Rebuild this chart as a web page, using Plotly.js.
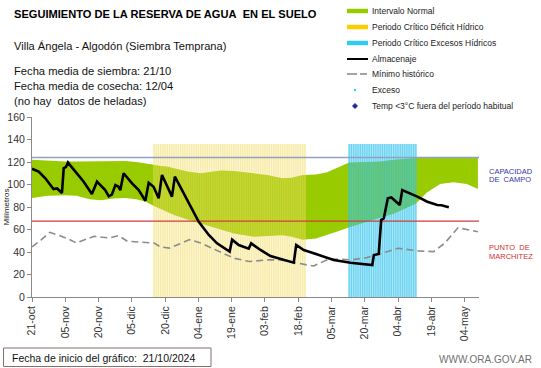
<!DOCTYPE html>
<html><head><meta charset="utf-8">
<script src="https://cdn.plot.ly/plotly-3.0.1.min.js"></script>
<style>html,body{margin:0;padding:0;background:#fff}#chart{width:541px;height:368px}</style>
</head><body><div id="chart"></div>
<script>
// ---- data (days counted from 21/10/2024) ----
const tickDays = [0,15,30,45,60,75,90,105,120,135,150,165,180,195];
const tickLabels = ['21-oct','05-nov','20-nov','05-dic','20-dic','04-ene','19-ene','03-feb','18-feb','05-mar','20-mar','04-abr','19-abr','04-may'];

const normDays  = [0,7,15,20,26,31,37,42,47,51,55,58,61,64,70,76,85,91,100,106,113,117,122,128,133,138,143,150,157,163,168,173,178,184,190,196,201];
const normUpper = [122,121,120.5,120.5,120.5,120.5,121,121,120,119,117.5,116.5,116,114.5,111.5,110,112.5,112,110,108.5,105.5,106,108.5,109,111,115,119.5,120,120.5,122,123,123.5,123.5,123.5,123.5,123.5,123.5];
const normLower = [88,90,90.5,90,87,86,87.5,88,87,85,81,78.5,76,73,69,65.5,60,56.5,53.5,54,55,53.5,51,52,55,58.5,62,66,70.5,74,78.5,83,93,100.5,102,100.5,96];

const minDays = [0,4,8,16,20,28,35,39,43,50,55,58,62,67,71,76,84,91,98,106,112,118,124,127,134,144,151,158,165,174,181,186,192,196,201];
const minVals = [44.5,50.5,57.5,52,48,54,52.5,54.5,49.5,48.5,48,44.5,43.5,47.5,51,48,40.5,34.5,31.5,33,33,30.5,28.5,27.6,34,33,35,39,43.3,41,40.3,47.7,61.5,60,58];

const almDays = [0,3,6,9.7,11.3,13.5,14.3,15.3,16.2,19.5,23.3,27,29.3,33,34.6,36,37.6,39,39.8,41.3,45.1,48.1,51.1,52.6,54.8,57.1,58.6,63.1,64.4,68.4,75.1,79.7,83.4,89.1,90.2,93.2,97.7,98.8,103,107.5,113.5,118,119.1,122.5,127,136,143.6,153.4,154.1,156.3,157.4,158.6,160.4,162,165.8,166.9,173.7,178.2,182.7,184.6,187.9];
const almVals = [114,111.5,105.5,96,96.5,92.5,114.5,115.5,119.5,111.5,102.5,91.5,102.5,95,89.5,91,99.5,98,95,110,101,95,85.5,101.5,98,87.7,108.4,89.2,107,92.2,67,55.1,47.7,40.3,51,46.2,43,47.7,41.8,36.4,32.9,30.5,46.2,41.8,38.8,32.9,30.5,28.4,37.3,38.2,68.4,70,87.7,88.5,81.8,95.1,89.2,84.7,81.8,81.5,79.7];

const capacidadCampo = 124;
const puntoMarchitez = 67.5;
const deficitPeriod = [55, 123];
const excesoPeriod = [143, 173];
const periodTop = 136;
const xEnd = 201.5;

// ---- build ----
const FONT = 'Liberation Sans, Arial, sans-serif';
function periodTraces(p, baseColor, stripeColor, name){
  const xs=[], ys=[];
  for(let d=p[0]; d<=p[1]; d++){ xs.push(d,d,null); ys.push(0,periodTop,null); }
  return [
    {x:[p[0]-0.5,p[1]+0.5,p[1]+0.5,p[0]-0.5,p[0]-0.5],y:[0,0,periodTop,periodTop,0],type:'scatter',mode:'lines',fill:'toself',fillcolor:baseColor,line:{width:0},hoverinfo:'skip',name:name,showlegend:false},
    {x:xs,y:ys,type:'scatter',mode:'lines',line:{color:stripeColor,width:1.2},hoverinfo:'skip',showlegend:false,connectgaps:false}
  ];
}

const traces = [
  {x:normDays,y:normLower,type:'scatter',mode:'lines',line:{width:0,color:'#99cc00'},hoverinfo:'skip',showlegend:false},
  {x:normDays,y:normUpper,type:'scatter',mode:'lines',fill:'tonexty',fillcolor:'#99cc00',line:{width:0,color:'#99cc00'},name:'Intervalo Normal',showlegend:false},
  ...periodTraces(deficitPeriod,'rgba(245,225,110,0.28)','rgba(240,215,90,0.4)','Periodo Crítico Déficit Hídrico'),
  ...periodTraces(excesoPeriod,'rgba(60,200,240,0.42)','rgba(40,190,235,0.5)','Periodo Crítico Excesos Hídricos'),
  {x:[0,xEnd],y:[capacidadCampo,capacidadCampo],type:'scatter',mode:'lines',line:{color:'#8fa2c4',width:1.5},showlegend:false},
  {x:[0,xEnd],y:[puntoMarchitez,puntoMarchitez],type:'scatter',mode:'lines',line:{color:'#d23c3c',width:1.2},showlegend:false},
  {x:minDays,y:minVals,type:'scatter',mode:'lines',line:{color:'#8c8c8c',width:1.6,dash:'7px,4px'},name:'Mínimo histórico',showlegend:false},
  {x:almDays,y:almVals,type:'scatter',mode:'lines',line:{color:'#000',width:2.6},name:'Almacenaje',showlegend:false}
];

const L=32,R=479,T=117,B=297;
const px=x=>(x-L)/(R-L), py=y=>(B-y)/(B-T);
const ann=[], shp=[];
function txt(x,y,t,size,color,extra){ann.push(Object.assign({xref:'paper',yref:'paper',x:px(x),y:py(y),text:t,showarrow:false,xanchor:'left',yanchor:'middle',font:{family:FONT,size:size,color:color}},extra||{}));}

txt(12,14,'SEGUIMIENTO DE LA RESERVA DE AGUA\u00a0 EN EL SUELO',11.1,'#000',{font:{family:FONT,size:11.1,color:'#000',weight:'bold'}});
txt(12,46,'Villa Ángela - Algodón (Siembra Temprana)',11.1,'#111');
txt(12,71,'Fecha media de siembra: 21/10',11.2,'#111');
txt(12,86,'Fecha media de cosecha: 12/04',11.2,'#111');
txt(12,101,'(no hay\u00a0 datos de heladas)',11.2,'#111');

// legend
const legY=[11,27,43,59,74,90,106];
const legT=['Intervalo Normal','Periodo Crítico Déficit Hídrico','Periodo Crítico Excesos Hídricos','Almacenaje','Mínimo histórico','Exceso','Temp <3°C fuera del período habitual'];
legT.forEach((t,i)=>txt(370,legY[i],t,8.5,'#222'));
function hline(x0,x1,y,color,w,dash){shp.push({type:'line',xref:'paper',yref:'paper',x0:px(x0),x1:px(x1),y0:py(y),y1:py(y),line:{color:color,width:w,dash:dash||'solid'}});}
hline(347,368,11,'#99cc00',4.5);
hline(347,368,27,'#ffcc00',4.5);
hline(347,368,43,'#33ccf0',4.5);
hline(347,368,59,'#000',2);
hline(347,357,74,'#8c8c8c',1.6);
hline(360,367,74,'#8c8c8c',1.6);
shp.push({type:'circle',xref:'paper',yref:'paper',x0:px(353.8),x1:px(356.2),y0:py(88.8),y1:py(91.2),fillcolor:'#33ccee',line:{width:0}});
shp.push({type:'path',xref:'paper',yref:'paper',path:`M${px(355)},${py(103)} L${px(358)},${py(106)} L${px(355)},${py(109)} L${px(352)},${py(106)} Z`,fillcolor:'#1f2f9f',line:{width:0}});

// right labels
txt(487,171,'CAPACIDAD',7.5,'#3535a5');
txt(487,179.5,'DE\u00a0 CAMPO',7.5,'#3535a5');
txt(487,247,'PUNTO\u00a0 DE',7.5,'#d03030');
txt(487,256,'MARCHITEZ',7.5,'#d03030');

// y title
ann.push({xref:'paper',yref:'paper',x:px(6),y:py(207.5),text:'Milímetros',textangle:-90,showarrow:false,xanchor:'center',yanchor:'middle',font:{family:FONT,size:8,color:'#222'}});

// bottom box
shp.push({type:'rect',xref:'paper',yref:'paper',x0:px(3.5),x1:px(211),y0:py(348),y1:py(366.5),line:{color:'#8a6d6d',width:1},fillcolor:'rgba(0,0,0,0)'});
txt(10,357.5,'Fecha de inicio del gráfico:\u00a0 21/10/2024',10.5,'#111');
txt(437,359,'WWW.ORA.GOV.AR',10,'#707070');

const axisCommon = {showgrid:false,zeroline:false,showline:true,linecolor:'#8a8a8a',linewidth:1,ticks:'outside',ticklen:4,tickcolor:'#8a8a8a',tickfont:{family:FONT,size:10.5,color:'#333'},fixedrange:true};
const layout = {
  width:541,height:368,paper_bgcolor:'#fff',plot_bgcolor:'rgba(0,0,0,0)',
  margin:{l:L,r:541-R,t:T,b:368-B,pad:0},
  showlegend:false,
  xaxis:Object.assign({},axisCommon,{range:[0,xEnd],tickmode:'array',tickvals:tickDays,ticktext:tickLabels,tickangle:-90}),
  yaxis:Object.assign({},axisCommon,{range:[0,160],dtick:20,tick0:0}),
  annotations:ann,shapes:shp,font:{family:FONT}
};
Plotly.newPlot('chart',traces,layout,{displayModeBar:false,staticPlot:true});
</script></body></html>
